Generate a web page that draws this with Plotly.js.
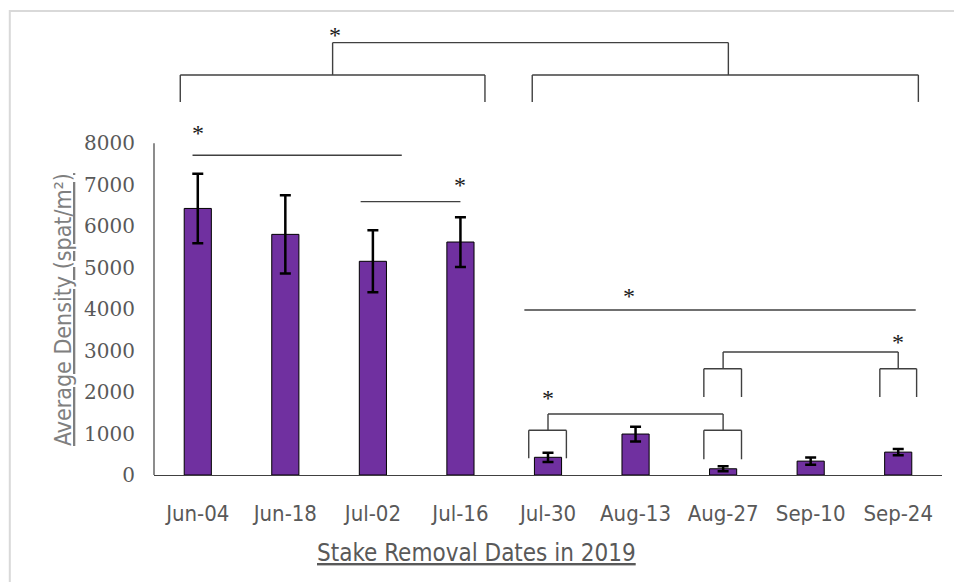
<!DOCTYPE html>
<html>
<head>
<meta charset="utf-8">
<script src="https://cdn.plot.ly/plotly-3.0.1.min.js"></script>
<style>html,body{margin:0;padding:0;background:#fff;}</style>
</head>
<body>
<div id="chart" style="width:954px;height:582px;"></div>
<script>
// ---- data ----
const categories = ['Jun-04','Jun-18','Jul-02','Jul-16','Jul-30','Aug-13','Aug-27','Sep-10','Sep-24'];
const densityMeans = [6430, 5805, 5155, 5620, 427, 988, 150, 335, 552];
const densityErrors = [840, 945, 748, 600, 112, 177, 60, 88, 76];
const yTickValues = [0, 1000, 2000, 3000, 4000, 5000, 6000, 7000, 8000];

// significance brackets: polylines in (category index, density) units
const bracketLines = [
  [[-0.2, 9000], [-0.2, 9650], [3.28, 9650], [3.28, 9000]],
  [[3.82, 9000], [3.82, 9650], [8.23, 9650], [8.23, 9000]],
  [[1.54, 9650], [1.54, 10430], [6.06, 10430], [6.06, 9650]],
  [[-0.06, 7713], [2.33, 7713]],
  [[1.86, 6594], [3.0, 6594]],
  [[3.73, 3981], [8.2, 3981]],
  [[3.78, 403], [3.78, 1078], [4.21, 1078], [4.21, 403]],
  [[5.78, 379], [5.78, 1078], [6.21, 1078], [6.21, 379]],
  [[4.0, 1078], [4.0, 1472], [6.0, 1472], [6.0, 1078]],
  [[5.78, 1882], [5.78, 2564], [6.21, 2564], [6.21, 1882]],
  [[7.79, 1882], [7.79, 2564], [8.21, 2564], [8.21, 1882]],
  [[6.0, 2564], [6.0, 2967], [8.0, 2967], [8.0, 2564]]
];
const starX = [1.57, 0.0, 2.99, 4.93, 4.0, 8.0];
const starY = [10620, 8250, 6990, 4310, 1860, 3210];

// ---- build ----
const shapes = [];
bracketLines.forEach(pts => {
  for (let i = 0; i < pts.length - 1; i++) {
    shapes.push({type:'line', xref:'x', yref:'y',
      x0: pts[i][0], y0: pts[i][1], x1: pts[i+1][0], y1: pts[i+1][1],
      line:{color:'#404040', width:1.4}});
  }
});
// y axis line only to 8000
shapes.push({type:'line', xref:'paper', yref:'y', x0:0, x1:0, y0:0, y1:8000,
  line:{color:'#404040', width:1.2}});
// outer light frame
shapes.push({type:'rect', xref:'paper', yref:'paper', x0:-0.183, x1:1.2, y0:-0.4, y1:1.0175,
  line:{color:'#d9d9d9', width:2}, fillcolor:'rgba(0,0,0,0)', layer:'below'});

const annotations = starX.map((x, i) => ({
  x: x, y: starY[i], xref:'x', yref:'y', text:'*', showarrow:false,
  font:{family:'Liberation Serif', size:24, color:'#1a1a1a'}, xanchor:'center', yanchor:'middle'
}));
annotations.push({xref:'paper', yref:'paper', x:(476-154)/788, y:(475-553)/456,
  text:'<u>Stake Removal Dates in 2019</u>', showarrow:false, xanchor:'center', yanchor:'middle',
  font:{family:'Liberation Sans Narrow, DejaVu Sans Condensed, Liberation Sans', size:24, color:'#595959'}});
annotations.push({xref:'paper', yref:'paper', x:(63-154)/788, y:(475-310)/456, textangle:-90,
  text:'<u>Average Density (spat/m²)</u>', showarrow:false, xanchor:'center', yanchor:'middle',
  font:{family:'Liberation Sans Narrow, DejaVu Sans Condensed, Liberation Sans', size:23, color:'#7f7f7f'}});

const trace = {
  type:'bar', x: categories, y: densityMeans, width: 0.31,
  marker:{color:'#7030A0', line:{color:'#000000', width:1}},
  error_y:{type:'data', array: densityErrors, visible:true, color:'#000000', thickness:2.5, width:5.5}
};

const layout = {
  width:954, height:582,
  margin:{l:154, r:12, t:19, b:107},
  paper_bgcolor:'#ffffff', plot_bgcolor:'rgba(0,0,0,0)',
  showlegend:false,
  xaxis:{type:'category', range:[-0.5, 8.5], showline:true, linecolor:'#404040', linewidth:1.2,
    showgrid:false, zeroline:false, ticks:'', ticklabelstandoff:18,
    tickfont:{family:'Liberation Sans Narrow, DejaVu Sans Condensed, Liberation Sans', size:22, color:'#595959'}},
  yaxis:{range:[0, 11000], tickvals:yTickValues, ticktext:yTickValues.map(String), showline:false,
    showgrid:false, zeroline:false, ticks:'', ticklabelstandoff:18,
    tickfont:{family:'DejaVu Serif', size:20, color:'#595959'}},
  shapes: shapes,
  annotations: annotations
};

Plotly.newPlot('chart', [trace], layout, {displayModeBar:false, staticPlot:true});
</script>
</body>
</html>
